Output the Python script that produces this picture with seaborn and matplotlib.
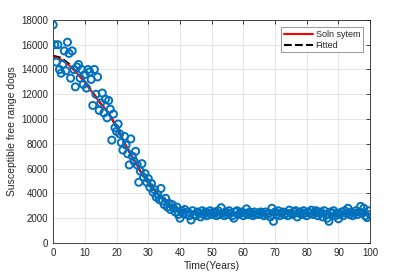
import numpy as np
import pandas as pd
import matplotlib
matplotlib.use("Agg")
import matplotlib.pyplot as plt
import seaborn as sns

# observed (scatter) data, every half year
years = np.arange(0, 100.5, 0.5)
dogs = [
    17600, 16000, 14600, 16000, 14000, 13700, 14400, 15500, 13900, 16200,
    15300, 13300, 15500, 14000, 12600, 14200, 14400, 13300, 14000, 12800,
    13600, 12500, 14000, 13800, 13200, 11100, 14000, 12000, 13400, 10700,
    11300, 12100, 10500, 11600, 10100, 11500, 10800, 8300, 10400, 9300,
    9000, 9600, 8800, 8100, 7500, 8600, 7900, 7200, 6300, 8400,
    7000, 6600, 7400, 6300, 4900, 5800, 6400, 5300, 5600, 4900,
    5200, 4500, 4800, 4100, 4300, 3700, 3900, 3500, 4400, 3400,
    3100, 3600, 2900, 3200, 2700, 3100, 2800, 2500, 2900, 2300,
    2000, 2600, 2400, 2700, 2300, 2500, 2200, 1850, 2600, 2300,
    2200, 2500, 2400, 2100, 2600, 2300, 2500, 2200, 2400, 2600,
    2300, 2500, 2400, 2200, 2600, 2300, 2850, 2400, 2200, 2500,
    2300, 2600, 2400, 2200, 2000, 2500, 2600, 2300, 2400, 2500,
    2200, 2400, 2750, 2300, 2500, 2400, 2200, 2500, 2300, 2400,
    2300, 2500, 2400, 2200, 2500, 2300, 2400, 2100, 2800, 1750,
    2500, 2300, 2600, 2200, 2400, 2500, 2300, 2400, 2200, 2650,
    2400, 2300, 2500, 2600, 2100, 2400, 2500, 2300, 2600, 2400,
    2200, 2500, 2400, 2650, 2300, 2500, 2600, 2200, 2400, 2500,
    2100, 2600, 2300, 2000, 1750, 2500, 2400, 2600, 2200, 2400,
    1950, 2300, 2500, 2200, 2600, 2400, 2800, 2300, 2500, 2200,
    2400, 2600, 2300, 2500, 2950, 2400, 2800, 2200, 2050, 2600,
    2300,
]

# model solution and fitted curve
t_model = [0, 2.5, 5, 7.5, 10, 12.5, 15, 17.5, 20, 22.5, 25, 27.5, 30,
           32.5, 35, 37.5, 40, 42.5, 45, 50, 60, 70, 80, 90, 100]
soln = [15000, 14800, 14350, 13700, 12950, 12100, 11250, 10500, 9400, 8100,
        6950, 5800, 4900, 4100, 3500, 3000, 2700, 2500, 2400, 2350,
        2350, 2350, 2350, 2350, 2350]
fitted = [15100, 14950, 14450, 13750, 13050, 12150, 11250, 10450, 9350, 8050,
          6900, 5780, 4880, 4080, 3480, 2990, 2690, 2500, 2400, 2350,
          2350, 2350, 2350, 2350, 2350]

sns.set_style("white")
plt.rcParams["font.family"] = ["Liberation Sans", "DejaVu Sans"]

fig = plt.figure(figsize=(4.09, 2.73), dpi=100)
ax = fig.add_axes([0.130, 0.110, 0.775, 0.817])

sns.lineplot(x=t_model, y=fitted, ax=ax, color="black", linestyle="--",
             linewidth=1.5, label="Fitted", zorder=2)
sns.lineplot(x=t_model, y=soln, ax=ax, color="red", linewidth=1.5,
             label="Soln sytem", zorder=3)
sns.scatterplot(x=years, y=dogs, ax=ax, marker="o", s=26,
                facecolor="none", edgecolor="#0072BD", linewidth=1.4,
                zorder=4)

ax.set_xlim(0, 100)
ax.set_ylim(0, 18000)
ax.set_xticks(range(0, 101, 10))
ax.set_yticks(range(0, 18001, 2000))
ax.grid(True, color="#e6e6e6", linewidth=0.7)
ax.set_axisbelow(True)
ax.tick_params(direction="in", top=True, right=True, length=3, width=0.6,
               labelsize=7, colors="#262626")
for sp in ax.spines.values():
    sp.set_color("#262626")
    sp.set_linewidth(0.6)

ax.set_xlabel("Time(Years)", fontsize=7.5, color="#262626", labelpad=2)
ax.set_ylabel("Susceptible free range dogs", fontsize=7.5, color="#262626",
              labelpad=3)

h, l = ax.get_legend_handles_labels()
order = [l.index("Soln sytem"), l.index("Fitted")]
leg = ax.legend([h[i] for i in order], [l[i] for i in order], loc="upper right",
                fontsize=6.5, fancybox=False, framealpha=1, handlelength=3.2,
                borderpad=0.3, labelspacing=0.2, handletextpad=0.3,
                borderaxespad=0.8)
leg.get_frame().set_edgecolor("#888888")
leg.get_frame().set_linewidth(0.6)

fig.savefig("out.png", dpi=100)
